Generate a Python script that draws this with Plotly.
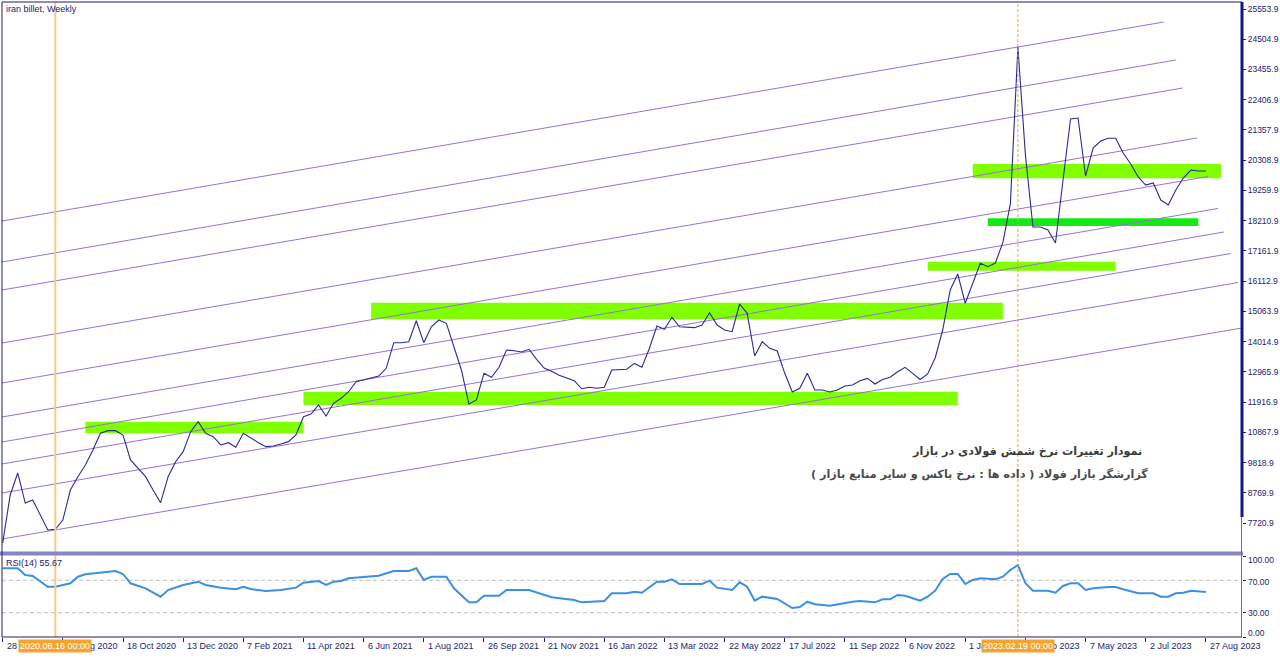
import plotly.graph_objects as go

W, H = 1280, 658


def px_x(p):
    return p / W


def px_y(p):
    return 1 - p / H


# ---------------- data ----------------
chart_title = "iran billet, Weekly"

date_tick_bars = [0, 8, 16, 24, 32, 40, 48, 56, 64, 72, 80, 88, 96, 104, 112, 120, 128, 136, 144, 152, 160]
date_labels = ["28 Jun 2020", "23 Aug 2020", "18 Oct 2020", "13 Dec 2020", "7 Feb 2021", "11 Apr 2021",
               "6 Jun 2021", "1 Aug 2021", "26 Sep 2021", "21 Nov 2021", "16 Jan 2022", "13 Mar 2022",
               "22 May 2022", "17 Jul 2022", "11 Sep 2022", "6 Nov 2022", "1 Jan 2023", "26 Feb 2023",
               "7 May 2023", "2 Jul 2023", "27 Aug 2023"]

price = [7030, 8695, 9458, 8416, 8521, 8000, 7480, 7505, 7826, 8868,
         9330, 9735, 10254, 10835, 10926, 10926, 10776, 9909, 9620, 9330,
         8868, 8427, 9330, 9850, 10197, 10891, 11238, 10835, 10718, 10430,
         10510, 10349, 10835, 10662, 10510, 10371, 10395, 10465, 10545, 10776,
         11411, 11505, 11817, 11434, 11876, 12049, 12277, 12624, 12682, 12740,
         12820, 13089, 13978, 13978, 14013, 14741, 13978, 14532, 14765, 14650,
         13839, 13031, 11851, 11990, 12916, 12777, 13124, 13725, 13700, 13655,
         13747, 13400, 13100, 12990, 12850, 12760, 12660, 12380, 12430, 12400,
         12430, 13031, 13050, 13055, 13260, 13124, 13784, 14557, 14442, 14858,
         14532, 14511, 14500, 14590, 15018, 14590, 14418, 14360, 15320, 14997,
         13516, 14013, 13784, 13690, 12916, 12267, 12396, 12916, 12337, 12337,
         12267, 12337, 12475, 12510, 12660, 12740, 12545, 12700, 12777, 12970,
         13124, 12916, 12700, 12892, 13447, 14418, 15806, 16361, 15345, 16038,
         16732, 16614, 16743, 17450, 18800, 24236, 20490, 17990, 17990, 17887,
         17436, 19622, 21738, 21773, 19760, 20732, 20975, 21068, 21068, 20558,
         20177, 19726, 19448, 19518, 18928, 18754, 19275, 19691, 19969, 19934,
         19934]
bars = list(range(len(price)))

rsi_bar = [0, 2, 3, 4, 6, 7, 9, 10, 11, 13, 15, 16, 17, 19, 21, 22, 24, 26, 27, 29,
           31, 32, 33, 35, 37, 39, 40, 42, 43, 44, 45, 46, 48, 50, 52, 54, 55, 56, 57, 59,
           60, 62, 63, 64, 66, 67, 70, 72, 73, 76, 77, 80, 81, 83, 84, 85, 87, 88, 89, 90,
           93, 94, 95, 97, 98, 99, 100, 101, 103, 105, 106, 107, 108, 110, 111, 113, 114, 116, 117, 118,
           119, 120, 122, 123, 124, 125, 126, 127, 128, 129, 130, 132, 133, 134, 135, 136, 137, 139, 140, 141,
           142, 143, 144, 145, 147, 148, 149, 151, 153, 154, 155, 156, 157, 158, 160]
rsi_val = [85, 85, 76.5, 75.3, 62.1, 62, 66.3, 74.4, 77.4, 79.4, 81.5, 77.8, 66.3, 60.1, 49.8, 58, 64.2, 68.3, 64.2, 60.9,
           58.9, 62.1, 59.3, 56.8, 58, 60.9, 67, 69.1, 64.2, 68.3, 69.1, 72.5, 73.7, 75.7, 81.5, 81.5, 84.8, 70.4, 74.4, 74.4,
           60.1, 42.8, 42.8, 51, 51, 58, 58, 51.9, 49, 45.7, 42.8, 44.4, 54, 54, 55.9, 54.7, 68.3, 68.3, 71.2, 65.4,
           65.4, 69.5, 60.9, 58, 67.5, 62.1, 44.8, 49.8, 46.9, 35.8, 37, 43.6, 40.4, 38.6, 40.4, 43.6, 44.4, 42.8, 46.5, 46.5,
           51.9, 51, 44.8, 49.8, 57.2, 71.6, 77.8, 77.8, 65.4, 70.4, 72.5, 71.2, 74.4, 82.7, 88.9, 66.3, 57.2, 57.2, 54.7, 63,
           66.3, 66.3, 58, 60.1, 61.7, 61.7, 58.9, 54, 54, 49.8, 49.8, 54, 54.7, 57.2, 55.67]
rsi_label = "RSI(14) 55.67"

price_tick_labels = ["7720.9", "8769.9", "9818.9", "10867.9", "11916.9", "12965.9", "14014.9", "15063.9",
                     "16112.9", "17161.9", "18210.9", "19259.9", "20308.9", "21357.9", "22406.9", "23455.9",
                     "24504.9", "25553.9"]
rsi_levels = [0, 30, 70, 100]
rsi_level_labels = ["0.00", "30.00", "70.00", "100.00"]

# parallel channel (trend) lines: start at left edge, end bar/value
chan_x0 = -0.09
chan_y0 = [18200, 16777, 15806, 13968, 12580, 11400, 10533, 9770, 8764, 7168]
chan_x1 = [154.4, 156.0, 156.9, 158.8, 160.3, 161.6, 162.4, 163.3, 164.3, 164.8]
chan_y1 = [25103, 23785, 22813, 21079, 19743, 18633, 17818, 17072, 16066, 14488]

# support / resistance zones
zone_x0 = [11, 40, 49, 123, 131, 129]
zone_x1 = [40, 127, 133, 148, 159, 162]
zone_y0 = [10834, 11817, 14790, 16476, 18026, 19681]
zone_y1 = [11237, 12278, 15366, 16788, 18293, 20177]
zone_kind = ["a", "a", "a", "a", "b", "a"]

marker_bars = [7, 135]
marker_labels = ["2020.08.16 00:00", "2023.02.19 00:00"]

note_line1 = "نمودار تغییرات نرخ شمش فولادی در بازار"
note_line2 = "گزارشگر بازار فولاد ( داده ها : نرخ باکس و سایر منابع بازار )"

# ---------------- styles ----------------
NAVY = "#1c1c6e"
FONT = "Liberation Sans"
zone_colors = {"a": "#80ff00", "b": "#14ea14"}

fig = go.Figure()

# channel lines
cx, cy = [], []
for y0, x1, y1 in zip(chan_y0, chan_x1, chan_y1):
    cx += [chan_x0, x1, None]
    cy += [y0, y1, None]
fig.add_trace(go.Scatter(x=cx, y=cy, mode="lines", line=dict(color="#9a70d8", width=1),
                         hoverinfo="skip", xaxis="x", yaxis="y"))

# price line
fig.add_trace(go.Scatter(x=bars, y=price, mode="lines", line=dict(color="#2a2a98", width=1.1),
                         xaxis="x", yaxis="y"))

# RSI line
fig.add_trace(go.Scatter(x=rsi_bar, y=rsi_val, mode="lines", line=dict(color="#3a90e2", width=2),
                         xaxis="x", yaxis="y2"))

shapes = []
for x0, x1, y0, y1, k in zip(zone_x0, zone_x1, zone_y0, zone_y1, zone_kind):
    shapes.append(dict(type="rect", xref="x", yref="y", x0=x0, x1=x1, y0=y0, y1=y1,
                       fillcolor=zone_colors[k], line=dict(width=0), layer="below"))

# RSI level lines
for lv in [30, 70]:
    shapes.append(dict(type="line", xref="paper", yref="y2", x0=px_x(2), x1=px_x(1241), y0=lv, y1=lv,
                       line=dict(color="#bdbdbd", width=1, dash="4px,3px"), layer="below"))

# vertical markers
shapes.append(dict(type="line", xref="x", yref="paper", x0=marker_bars[0], x1=marker_bars[0],
                   y0=px_y(637), y1=px_y(2), line=dict(color="#f6c985", width=2)))
shapes.append(dict(type="line", xref="x", yref="paper", x0=marker_bars[1], x1=marker_bars[1],
                   y0=px_y(637), y1=px_y(2), line=dict(color="#e9a23c", width=1, dash="3px,2px")))

# frame
shapes.append(dict(type="rect", xref="paper", yref="paper", x0=0, x1=px_x(1243),
                   y0=px_y(555.5), y1=px_y(551.5), fillcolor="#8686c6", line=dict(width=0)))
shapes.append(dict(type="line", xref="paper", yref="paper", x0=px_x(2), x1=px_x(2),
                   y0=px_y(637), y1=px_y(2), line=dict(color=NAVY, width=1)))
shapes.append(dict(type="line", xref="paper", yref="paper", x0=px_x(2), x1=px_x(1242),
                   y0=px_y(2), y1=px_y(2), line=dict(color=NAVY, width=1)))
shapes.append(dict(type="line", xref="paper", yref="paper", x0=px_x(1242), x1=px_x(1242),
                   y0=px_y(517), y1=px_y(2), line=dict(color="#16168c", width=3)))
shapes.append(dict(type="line", xref="paper", yref="paper", x0=px_x(1241.5), x1=px_x(1241.5),
                   y0=px_y(637), y1=px_y(517), line=dict(color="#6c6cb2", width=1)))
shapes.append(dict(type="line", xref="paper", yref="paper", x0=px_x(2), x1=px_x(1242),
                   y0=px_y(637), y1=px_y(637), line=dict(color=NAVY, width=1)))

annotations = []
annotations.append(dict(text=chart_title, xref="paper", yref="paper", x=px_x(4), y=px_y(9),
                        xanchor="left", yanchor="middle", showarrow=False,
                        font=dict(family=FONT, size=9, color=NAVY)))
annotations.append(dict(text=rsi_label, xref="paper", yref="paper", x=px_x(4), y=px_y(563),
                        xanchor="left", yanchor="middle", showarrow=False,
                        font=dict(family=FONT, size=9, color=NAVY)))
for b, lab in zip(date_tick_bars, date_labels):
    annotations.append(dict(text=lab, xref="x", yref="paper", x=b, y=px_y(646), xanchor="left",
                            yanchor="middle", xshift=2, showarrow=False,
                            font=dict(family=FONT, size=9, color=NAVY)))
for b, lab in zip(marker_bars, marker_labels):
    annotations.append(dict(text=lab, xref="x", yref="paper", x=b, y=px_y(646), xanchor="center",
                            yanchor="middle", showarrow=False, bgcolor="#f5a431", borderpad=1,
                            font=dict(family=FONT, size=9, color="white")))
shift = {0: 4, 30: 0, 70: -2, 100: -4}
for lv, lab in zip(rsi_levels, rsi_level_labels):
    annotations.append(dict(text=lab, xref="paper", yref="y2", x=px_x(1246), y=lv, yshift=shift[lv],
                            xanchor="left", yanchor="middle", showarrow=False,
                            font=dict(family=FONT, size=8.5, color=NAVY)))
annotations.append(dict(text="<b>" + note_line1 + "</b>", xref="paper", yref="paper", x=px_x(1144),
                        y=px_y(451), xanchor="right", yanchor="middle", showarrow=False,
                        font=dict(family="DejaVu Sans", size=11.2, color="#3a3a3a")))
annotations.append(dict(text="<b>" + note_line2 + "</b>", xref="paper", yref="paper", x=px_x(1150),
                        y=px_y(474), xanchor="right", yanchor="middle", showarrow=False,
                        font=dict(family="DejaVu Sans", size=11.2, color="#4a4a4a")))

fig.update_layout(
    width=W, height=H, margin=dict(l=0, r=0, t=0, b=0),
    paper_bgcolor="white", plot_bgcolor="white", showlegend=False, hovermode=False,
    xaxis=dict(domain=[px_x(2), px_x(1242)], range=[-0.09, 164.8], anchor="y2",
               showgrid=False, zeroline=False, showline=False, ticks="outside", ticklen=4,
               tickcolor=NAVY, tickvals=date_tick_bars, showticklabels=False, fixedrange=True),
    yaxis=dict(domain=[px_y(552), px_y(2)], range=[6717, 25797], side="right", anchor="x",
               tickvals=[float(t) for t in price_tick_labels], ticktext=price_tick_labels,
               ticks="outside", ticklen=3, tickcolor=NAVY, showgrid=False, zeroline=False,
               showline=False, tickfont=dict(family=FONT, size=8.5, color=NAVY), automargin=False),
    yaxis2=dict(domain=[px_y(637), px_y(556)], range=[0, 100], side="right", anchor="x",
                tickvals=rsi_levels, ticks="outside", ticklen=3, tickcolor=NAVY,
                showticklabels=False, showgrid=False, zeroline=False, showline=False),
    shapes=shapes, annotations=annotations,
)

fig.write_html("out.html", config={"displayModeBar": False},
               post_script="document.body.style.margin='0';document.body.style.overflow='hidden';")
